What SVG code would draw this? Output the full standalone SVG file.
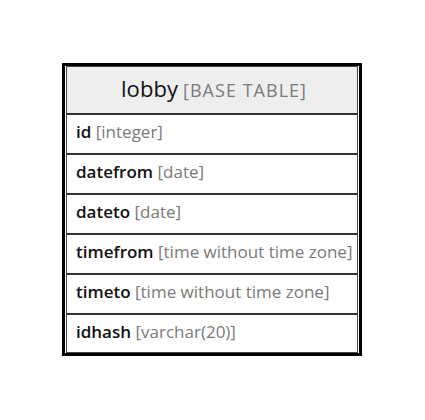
<svg xmlns="http://www.w3.org/2000/svg" width="425" height="420" viewBox="0 0 425 420">
<style>
.nm{font-family:"Open Sans","Noto Sans",sans-serif;font-size:17px;fill:#111}
.b{font-weight:600}
.ty{fill:#7a7a7a}
.sep{stroke:#333;stroke-width:2}
</style>
<rect width="425" height="420" fill="#fff"/>
<g id="lobby">
<rect x="67" y="67" width="290" height="47" fill="#eeeeee"/>
<rect x="63.5" y="64.5" width="297" height="290" fill="none" stroke="#000" stroke-width="3"/>
<rect x="66.5" y="66.5" width="291" height="286" fill="none" stroke="#444" stroke-width="1"/>
<line class="sep" x1="67" y1="114" x2="358" y2="114"/>
<line class="sep" x1="67" y1="154" x2="358" y2="154"/>
<line class="sep" x1="67" y1="194" x2="358" y2="194"/>
<line class="sep" x1="67" y1="234" x2="358" y2="234"/>
<line class="sep" x1="67" y1="274" x2="358" y2="274"/>
<line class="sep" x1="67" y1="314" x2="358" y2="314"/>
<text x="121" y="97" font-family="Open Sans, Noto Sans, sans-serif" font-size="22" fill="#111" textLength="57">lobby</text>
<text x="183" y="97" font-family="Open Sans, Noto Sans, sans-serif" font-size="18" fill="#7a7a7a" textLength="123">[BASE TABLE]</text>
<text class="nm" x="76" y="138"><tspan class="b">id</tspan> <tspan class="ty">[integer]</tspan></text>
<text class="nm" x="76" y="178"><tspan class="b">datefrom</tspan> <tspan class="ty">[date]</tspan></text>
<text class="nm" x="76" y="218"><tspan class="b">dateto</tspan> <tspan class="ty">[date]</tspan></text>
<text class="nm" x="76" y="258"><tspan class="b">timefrom</tspan> <tspan class="ty">[time without time zone]</tspan></text>
<text class="nm" x="76" y="298"><tspan class="b">timeto</tspan> <tspan class="ty">[time without time zone]</tspan></text>
<text class="nm" x="76" y="338"><tspan class="b">idhash</tspan> <tspan class="ty">[varchar(20)]</tspan></text>
</g>
</svg>
